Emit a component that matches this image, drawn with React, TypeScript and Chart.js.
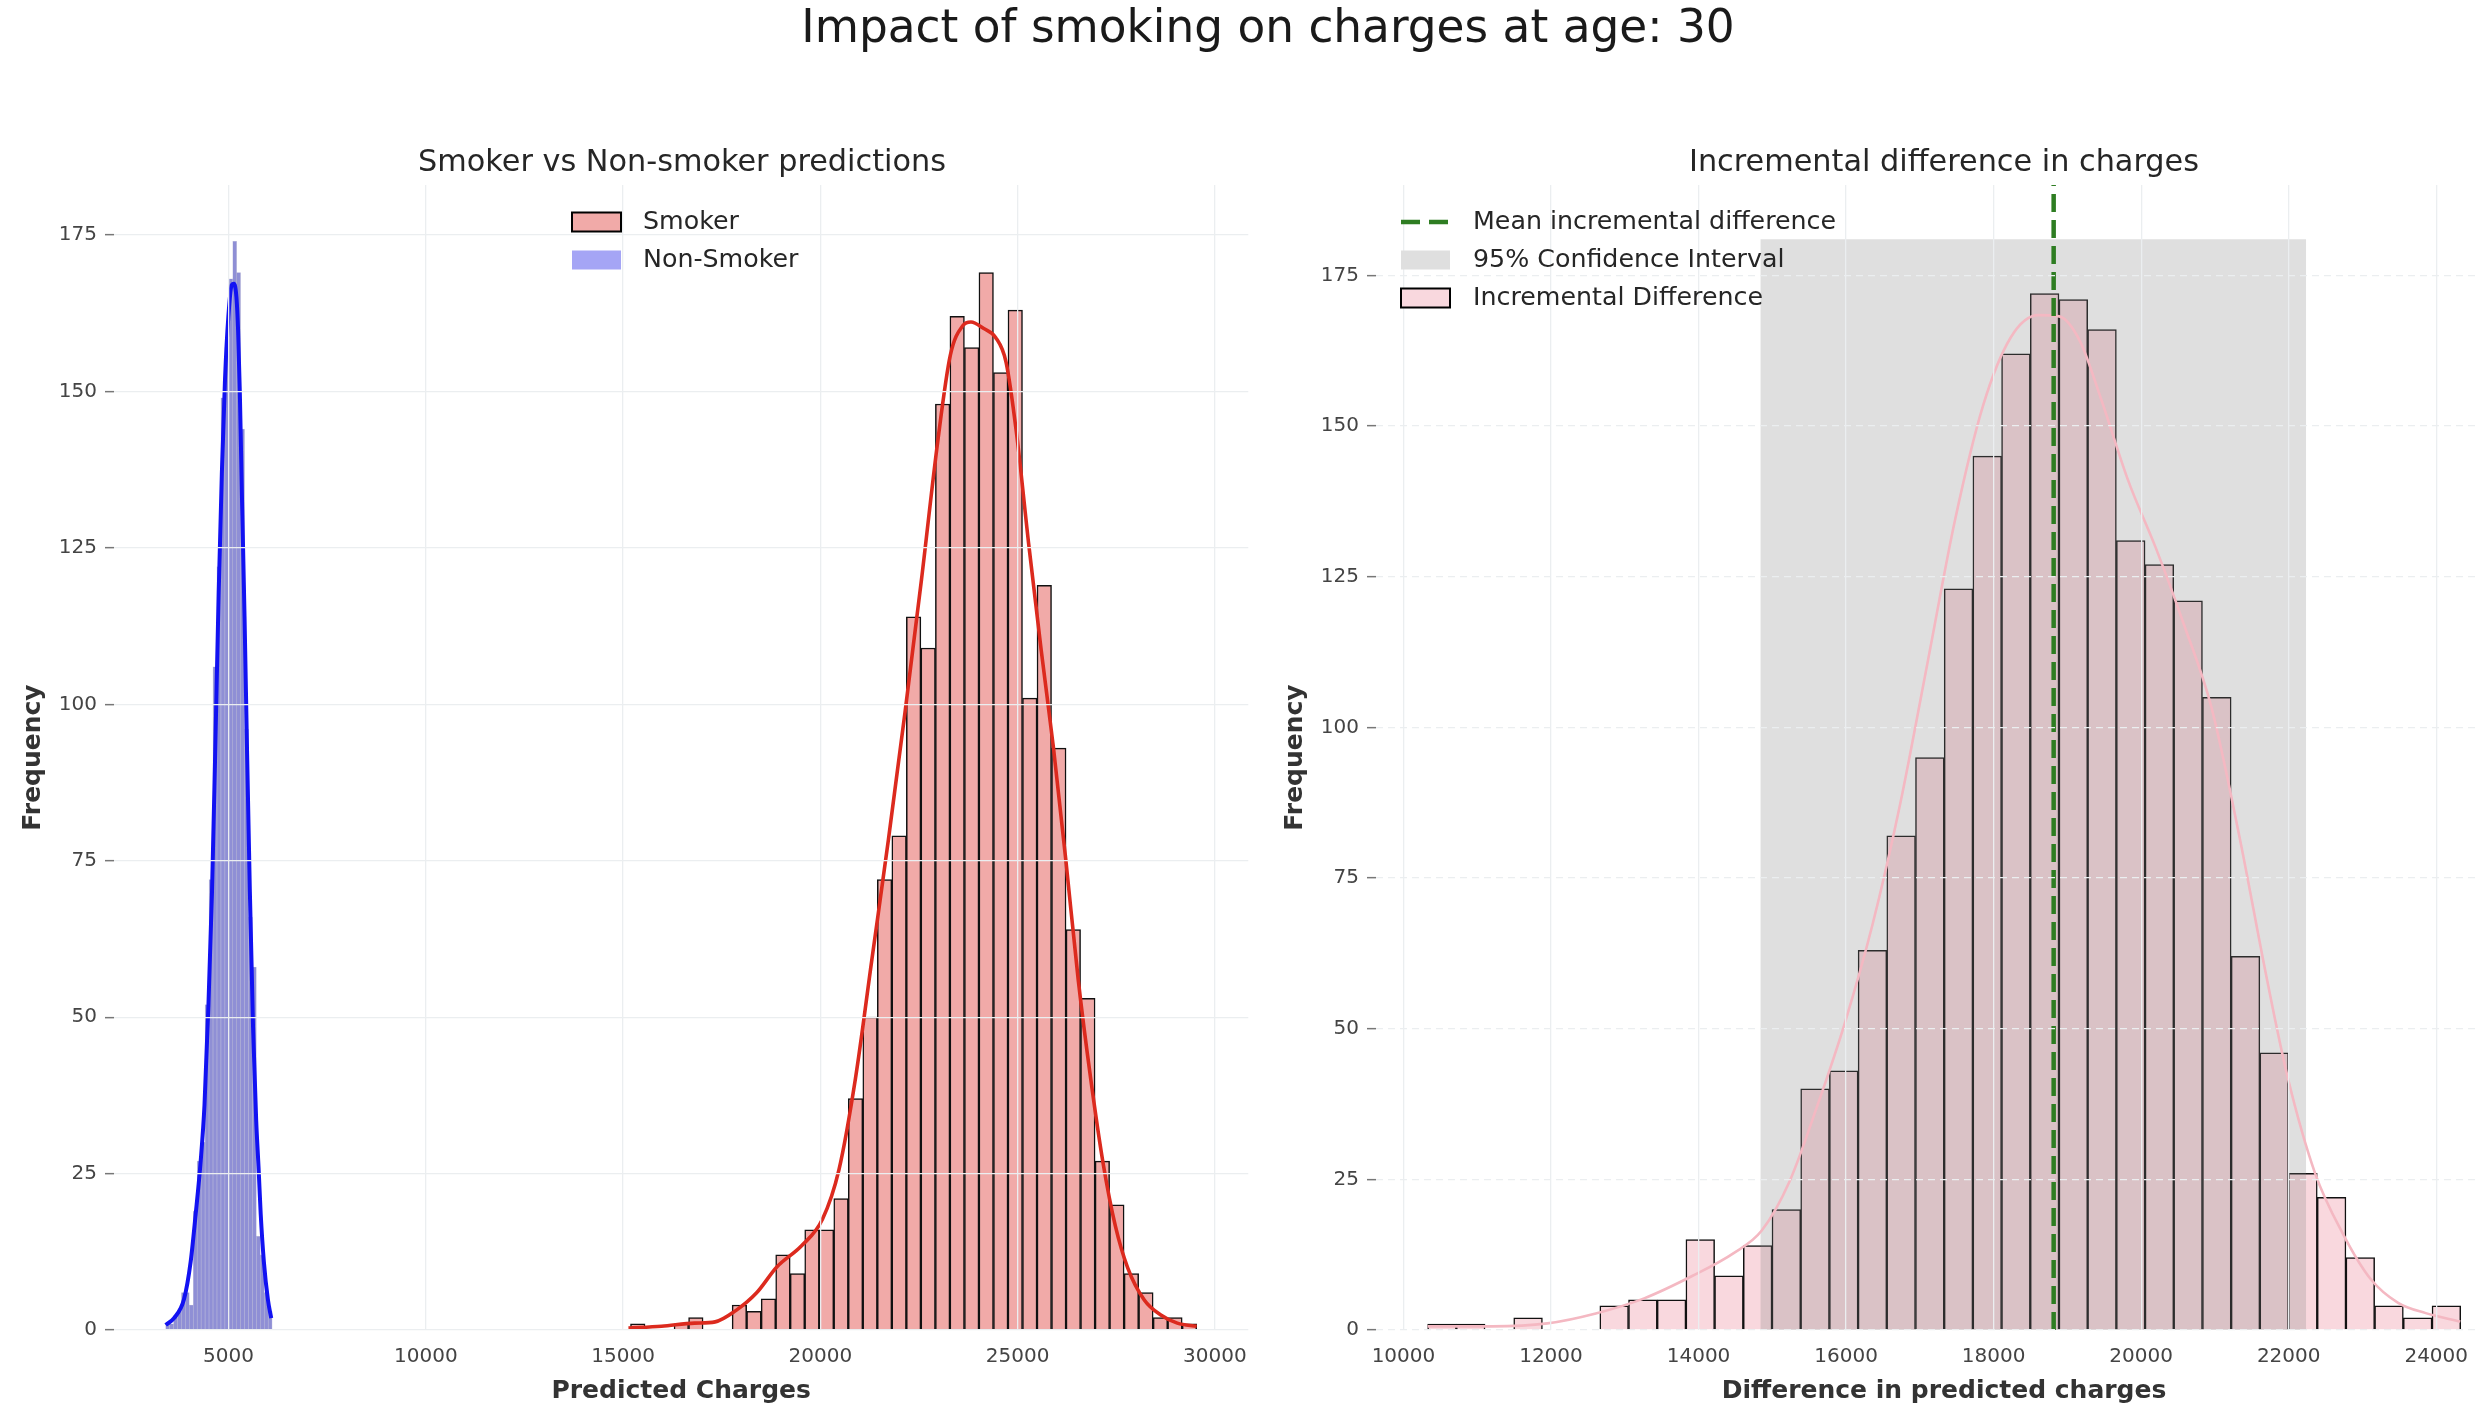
import React, { useEffect, useRef } from "react";
import { Chart, registerables } from "chart.js";

Chart.register(...registerables);

const FONT_FAMILY = '"DejaVu Sans", "Liberation Sans", Arial, sans-serif';

// ---------------- Left panel: Smoker vs Non-smoker predictions ----------------
const smokerBinStart = 15188;
const smokerBinWidth = 368;
const smokerCounts = [
  1, 0, 0, 1, 2, 0, 0, 4, 3, 5,
  12, 9, 16, 16, 21, 37, 50, 72, 79, 114,
  109, 148, 162, 157, 169, 153, 163, 101, 119, 93,
  64, 53, 27, 20, 9, 6, 2, 2, 1,
];

const nonSmokerBinStart = 3405;
const nonSmokerBinWidth = 100;
const nonSmokerCounts = [
  1, 1, 2, 3, 6, 6, 4, 19, 27, 30,
  52, 72, 106, 122, 149, 157, 168, 174, 169, 144,
  96, 66, 58, 15, 12, 6, 3,
];

const smokerKdeX = [
  15136, 15973, 16810, 17333, 17856, 18379, 18902, 19530, 20053, 20471,
  20890, 21308, 21726, 22144, 22563, 22981, 23295, 23609, 23818, 24132,
  24446, 24707, 24969, 25283, 25597, 25910, 26224, 26538, 26852, 27166,
  27479, 27793, 28211, 28630, 29048, 29540,
];
const smokerKdeY = [
  0.3, 0.6, 1.1, 1.3, 3.1, 5.9, 10.1, 13.5, 17.7, 25.6,
  40.2, 59.3, 78.4, 98.6, 119.9, 142.3, 155.8, 160.5, 161.1, 160.1,
  158.6, 154.7, 143.5, 125.5, 108.7, 93.0, 75.0, 55.9, 40.2, 26.7,
  16.6, 9.9, 4.8, 2.4, 1.1, 0.6,
];

const nonSmokerKdeX = [
  3406, 3617, 3870, 4039, 4166, 4293, 4390, 4490, 4580, 4660,
  4750, 4830, 4910, 4995, 5080, 5137, 5200, 5240, 5285, 5340,
  5405, 5470, 5540, 5620, 5700, 5760, 5815, 5895, 5996, 6081,
];
const nonSmokerKdeY = [
  0.8, 1.9, 4.9, 10.9, 18.5, 27, 36, 52, 70, 92,
  118, 137, 152, 162, 167, 167.2, 165, 160, 150, 133,
  114, 92, 70, 48.5, 33.5, 26, 18.5, 10.9, 4.9, 1.9,
];

const leftXTicks = [5000, 10000, 15000, 20000, 25000, 30000];
const leftYTicks = [0, 25, 50, 75, 100, 125, 150, 175];
const leftXMin = 2096;
const leftXMax = 30847;
const leftYMax = 183;

// ---------------- Right panel: Incremental difference ----------------
const diffBinStart = 10328;
const diffBinWidth = 389;
const diffCounts = [
  1, 1, 0, 2, 0, 0, 4, 5, 5, 15,
  9, 14, 20, 40, 43, 63, 82, 95, 123, 145,
  162, 172, 171, 166, 131, 127, 121, 105, 62, 46,
  26, 22, 12, 4, 2, 4,
];

const diffKdeX = [
  10328, 11200, 11950, 12607, 13263, 13920, 14482, 14857, 15232, 15607,
  15982, 16357, 16732, 17107, 17482, 17857, 18232, 18607, 18889, 19170,
  19451, 19826, 20201, 20576, 20951, 21327, 21702, 21983, 22358, 22733,
  23108, 23483, 23858, 24327,
];
const diffKdeY = [
  0.6, 0.6, 1.1, 2.75, 5.25, 9.0, 12.8, 16.5, 24.6, 37.1,
  50.9, 67.2, 87.2, 110.9, 134.7, 153.4, 164.7, 168.4, 168.2, 164.1,
  154.7, 140.9, 129.7, 117.2, 103.4, 82.2, 58.4, 42.1, 26, 16,
  8.5, 4.5, 2.8, 1.4,
];

const meanDiff = 18814;
const ciLow = 14838;
const ciHigh = 22236;
const ciTop = 181;

const rightXTicks = [10000, 12000, 14000, 16000, 18000, 20000, 22000, 24000];
const rightYTicks = [0, 25, 50, 75, 100, 125, 150, 175];
const rightXMin = 9628;
const rightXMax = 25027;
const rightYMax = 190;

// ---------------- helpers ----------------
const toBins = (start: number, width: number, counts: number[]) =>
  counts.map((c, i) => ({ x: start + width * (i + 0.5), y: c }));
const toPoints = (xs: number[], ys: number[]) => xs.map((x, i) => ({ x, y: ys[i] }));

const GRID_COLOR = "rgb(235,238,240)";
const TICK_FONT = { family: FONT_FAMILY, size: 20 };
const AXIS_TITLE_FONT = { family: FONT_FAMILY, size: 25, weight: "bold" as const };

type LegendItem = { label: string; kind: "patch" | "dash"; fill?: string; stroke?: string; color?: string };

function makeLegendPlugin(items: LegendItem[], handleX: number, textX: number) {
  return {
    id: "panelLegend",
    afterDraw(chart: any) {
      const { ctx, chartArea } = chart;
      ctx.save();
      items.forEach((item, i) => {
        const cy = chartArea.top + 37 + i * 38;
        const hx = chartArea.left + handleX;
        const hw = 49;
        const hh = 19;
        if (item.kind === "dash") {
          ctx.strokeStyle = item.color;
          ctx.lineWidth = 4.5;
          ctx.setLineDash([19, 9]);
          ctx.beginPath();
          ctx.moveTo(hx, cy);
          ctx.lineTo(hx + hw - 2, cy);
          ctx.stroke();
          ctx.setLineDash([]);
        } else {
          ctx.fillStyle = item.fill;
          ctx.fillRect(hx, cy - hh / 2, hw, hh);
          if (item.stroke) {
            ctx.strokeStyle = item.stroke;
            ctx.lineWidth = 2;
            ctx.strokeRect(hx, cy - hh / 2, hw, hh);
          }
        }
        ctx.fillStyle = "#262626";
        ctx.font = `25.3px ${FONT_FAMILY}`;
        ctx.textAlign = "left";
        ctx.textBaseline = "middle";
        ctx.fillText(item.label, chartArea.left + textX, cy);
      });
      ctx.restore();
    },
  };
}

function xScale(min: number, max: number, ticks: number[], title: string) {
  return {
    type: "linear" as const,
    position: "bottom" as const,
    min,
    max,
    offset: false,
    afterFit: (s: any) => {
      s.height = 84;
    },
    afterBuildTicks: (s: any) => {
      s.ticks = ticks.map((v) => ({ value: v }));
    },
    grid: { color: GRID_COLOR, lineWidth: 1.3, drawTicks: false, offset: false, z: 1 },
    border: { display: false },
    ticks: {
      font: TICK_FONT,
      color: "#444",
      padding: 15,
      maxRotation: 0,
      autoSkip: false,
      callback: (v: any) => String(v),
    },
    title: {
      display: true,
      text: title,
      font: AXIS_TITLE_FONT,
      color: "#333",
      padding: { top: 0, bottom: 8 },
    },
  };
}

function yScale(max: number, ticks: number[], dash: number[]) {
  return {
    type: "linear" as const,
    position: "left" as const,
    min: 0,
    max,
    afterFit: (s: any) => {
      s.width = 114;
    },
    afterBuildTicks: (s: any) => {
      s.ticks = ticks.map((v) => ({ value: v }));
    },
    grid: {
      color: GRID_COLOR,
      lineWidth: 1.3,
      drawTicks: true,
      tickLength: 9,
      tickColor: "#777",
      tickWidth: 1.5,
      z: 1,
    },
    border: { display: false, dash },
    ticks: {
      font: TICK_FONT,
      color: "#444",
      padding: 8,
      autoSkip: false,
      callback: (v: any) => String(v),
    },
    title: {
      display: true,
      text: "Frequency",
      font: AXIS_TITLE_FONT,
      color: "#333",
      padding: { top: 18, bottom: 0 },
    },
  };
}

export default function App() {
  const leftRef = useRef<HTMLCanvasElement>(null);
  const rightRef = useRef<HTMLCanvasElement>(null);

  useEffect(() => {
    const leftLegend = makeLegendPlugin(
      [
        { label: "Smoker", kind: "patch", fill: "rgb(241,170,168)", stroke: "#000" },
        { label: "Non-Smoker", kind: "patch", fill: "rgb(165,165,245)" },
      ],
      458,
      529
    );
    const rightLegend = makeLegendPlugin(
      [
        { label: "Mean incremental difference", kind: "dash", color: "#2e7d22" },
        { label: "95% Confidence Interval", kind: "patch", fill: "rgb(223,223,223)" },
        { label: "Incremental Difference", kind: "patch", fill: "rgb(249,216,222)", stroke: "#000" },
      ],
      25,
      97
    );

    const left = new Chart(leftRef.current as HTMLCanvasElement, {
      type: "bar",
      data: {
        datasets: [
          {
            type: "line",
            label: "Smoker KDE",
            data: toPoints(smokerKdeX, smokerKdeY),
            xAxisID: "x",
            yAxisID: "y",
            borderColor: "#dc2a1e",
            borderWidth: 3.6,
            pointRadius: 0,
            cubicInterpolationMode: "monotone",
            fill: false,
            order: 0,
          },
          {
            type: "line",
            label: "Non-Smoker KDE",
            data: toPoints(nonSmokerKdeX, nonSmokerKdeY),
            xAxisID: "x",
            yAxisID: "y",
            borderColor: "#1212f2",
            borderWidth: 4,
            pointRadius: 0,
            cubicInterpolationMode: "monotone",
            fill: false,
            order: 1,
          },
          {
            type: "bar",
            label: "Non-Smoker",
            data: toBins(nonSmokerBinStart, nonSmokerBinWidth, nonSmokerCounts),
            xAxisID: "x2",
            yAxisID: "y",
            backgroundColor: "rgb(143,143,213)",
            borderColor: "rgba(100,100,170,0.35)",
            borderWidth: 0.6,
            barPercentage: 1,
            categoryPercentage: 1,
            grouped: false,
            order: 2,
          },
          {
            type: "bar",
            label: "Smoker",
            data: toBins(smokerBinStart, smokerBinWidth, smokerCounts),
            xAxisID: "x",
            yAxisID: "y",
            backgroundColor: "rgb(241,170,168)",
            borderColor: "#111",
            borderWidth: 1.5,
            barPercentage: 1,
            categoryPercentage: 1,
            grouped: false,
            order: 3,
          },
        ] as any,
      },
      options: {
        responsive: false,
        animation: false,
        devicePixelRatio: 1,
        layout: { padding: { top: 185, right: 11, bottom: 0, left: 0 } },
        plugins: { legend: { display: false }, tooltip: { enabled: false }, title: { display: false } },
        scales: {
          x: xScale(leftXMin, leftXMax, leftXTicks, "Predicted Charges"),
          x2: { type: "linear", min: leftXMin, max: leftXMax, display: false, offset: false, grid: { offset: false } },
          y: yScale(leftYMax, leftYTicks, []),
        } as any,
      },
      plugins: [leftLegend],
    });

    const right = new Chart(rightRef.current as HTMLCanvasElement, {
      type: "bar",
      data: {
        datasets: [
          {
            type: "line",
            label: "Mean incremental difference",
            data: [
              { x: meanDiff, y: 0 },
              { x: meanDiff, y: rightYMax },
            ],
            borderColor: "#2e7d22",
            borderWidth: 4.5,
            borderDash: [18, 8],
            pointRadius: 0,
            fill: false,
            order: 1,
          },
          {
            type: "line",
            label: "KDE",
            data: toPoints(diffKdeX, diffKdeY),
            borderColor: "rgb(244,184,194)",
            borderWidth: 2.6,
            pointRadius: 0,
            cubicInterpolationMode: "monotone",
            fill: false,
            order: 2,
          },
          {
            type: "line",
            label: "95% Confidence Interval",
            data: [
              { x: ciLow, y: ciTop },
              { x: ciHigh, y: ciTop },
            ],
            borderColor: "rgba(0,0,0,0)",
            borderWidth: 1,
            backgroundColor: "rgba(128,128,128,0.25)",
            pointRadius: 0,
            fill: "origin",
            order: 3,
          },
          {
            type: "bar",
            label: "Incremental Difference",
            data: toBins(diffBinStart, diffBinWidth, diffCounts),
            backgroundColor: "rgb(249,216,222)",
            borderColor: "#111",
            borderWidth: 1.5,
            barPercentage: 1,
            categoryPercentage: 1,
            grouped: false,
            order: 4,
          },
        ] as any,
      },
      options: {
        responsive: false,
        animation: false,
        devicePixelRatio: 1,
        layout: { padding: { top: 185, right: 30, bottom: 0, left: 0 } },
        plugins: { legend: { display: false }, tooltip: { enabled: false }, title: { display: false } },
        scales: {
          x: xScale(rightXMin, rightXMax, rightXTicks, "Difference in predicted charges"),
          y: yScale(rightYMax, rightYTicks, [7, 5]),
        } as any,
      },
      plugins: [rightLegend],
    });

    return () => {
      left.destroy();
      right.destroy();
    };
  }, []);

  return (
    <div
      style={{
        position: "absolute",
        left: 0,
        top: 0,
        width: 2476,
        height: 1414,
        overflow: "hidden",
        background: "#fff",
        fontFamily: FONT_FAMILY,
      }}
    >
      <canvas
        ref={leftRef}
        width={1262}
        height={1414}
        style={{ position: "absolute", left: 0, top: 0, width: 1262, height: 1414 }}
      />
      <canvas
        ref={rightRef}
        width={1280}
        height={1414}
        style={{ position: "absolute", left: 1262, top: 0, width: 1280, height: 1414 }}
      />
      <div
        style={{
          position: "absolute",
          left: 0,
          top: 0,
          width: 2536,
          textAlign: "center",
          fontSize: 45.4,
          lineHeight: "54px",
          color: "#1a1a1a",
          whiteSpace: "nowrap",
        }}
      >
        Impact of smoking on charges at age: 30
      </div>
      <div
        style={{
          position: "absolute",
          left: 182,
          top: 143,
          width: 1000,
          textAlign: "center",
          fontSize: 30.3,
          lineHeight: "36px",
          color: "#262626",
          whiteSpace: "nowrap",
        }}
      >
        Smoker vs Non-smoker predictions
      </div>
      <div
        style={{
          position: "absolute",
          left: 1444,
          top: 143,
          width: 1000,
          textAlign: "center",
          fontSize: 30.3,
          lineHeight: "36px",
          color: "#262626",
          whiteSpace: "nowrap",
        }}
      >
        Incremental difference in charges
      </div>
    </div>
  );
}
